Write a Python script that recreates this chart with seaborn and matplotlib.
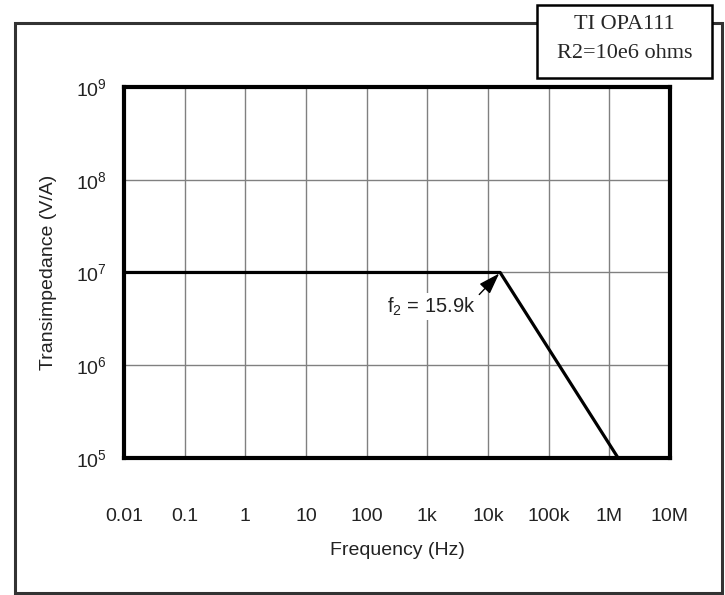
import matplotlib
matplotlib.use("Agg")
import matplotlib.pyplot as plt
from matplotlib.patches import Rectangle
import numpy as np
import pandas as pd
import seaborn as sns

# Data
freq_hz = [0.01, 15.9e3, 1.4e6]
transimpedance = [1e7, 1e7, 1e5]
x_ticks = [0.01, 0.1, 1, 10, 100, 1e3, 1e4, 1e5, 1e6, 1e7]
x_tick_labels = ["0.01", "0.1", "1", "10", "100", "1k", "10k", "100k", "1M", "10M"]
y_ticks = [1e5, 1e6, 1e7, 1e8, 1e9]
y_tick_labels = [r"$\mathregular{10^{5}}$", r"$\mathregular{10^{6}}$", r"$\mathregular{10^{7}}$",
                 r"$\mathregular{10^{8}}$", r"$\mathregular{10^{9}}$"]
corner_freq = 15.9e3
corner_label = r"f$\mathregular{_2}$ = 15.9k"
box_text = "TI OPA111\nR2=10e6 ohms"

sns.set_style("white")
plt.rcParams["font.family"] = ["Liberation Sans", "DejaVu Sans"]
plt.rcParams["mathtext.fontset"] = "custom"
plt.rcParams["mathtext.rm"] = "Liberation Sans"

df = pd.DataFrame({"freq": freq_hz, "z": transimpedance})

fig = plt.figure(figsize=(7.25, 5.95), dpi=100)
ax = fig.add_axes([0.171, 0.2303, 0.753, 0.6235])

ax.set_xscale("log")
ax.set_yscale("log")
sns.lineplot(data=df, x="freq", y="z", ax=ax, color="black", linewidth=2.3, zorder=3)

ax.set_xlim(0.01, 1e7)
ax.set_ylim(1e5, 1e9)
ax.set_xticks(x_ticks)
ax.set_xticklabels(x_tick_labels)
ax.set_yticks(y_ticks)
ax.set_yticklabels(y_tick_labels)
ax.minorticks_off()
ax.tick_params(axis="x", length=0, pad=36, labelsize=14, colors="#222222")
ax.tick_params(axis="y", length=0, pad=12, labelsize=14, colors="#222222")
ax.grid(True, which="major", color="#808080", linewidth=1.0)
ax.set_axisbelow(True)
for s in ax.spines.values():
    s.set_visible(True)
    s.set_color("black")
    s.set_linewidth(3.0)

ax.set_xlabel("Frequency (Hz)", fontsize=14, color="#222222", labelpad=12)
ax.set_ylabel("Transimpedance (V/A)", fontsize=14, color="#222222", labelpad=14)

ax.annotate(corner_label, xy=(corner_freq, 1e7), xytext=(6.2e3, 4.3e6),
            ha="right", va="center", fontsize=14.5, color="#222222",
            bbox=dict(boxstyle="square,pad=0.1", fc="white", ec="none"),
            arrowprops=dict(arrowstyle="-|>,head_length=0.9,head_width=0.3",
                            color="black", lw=1.0, shrinkA=2, shrinkB=1,
                            relpos=(1.0, 0.85)),
            zorder=4)

# Outer frame
fig.patches.append(Rectangle((0.0207, 0.0034), 0.975, 0.9576, transform=fig.transFigure,
                             fill=False, edgecolor="#333333", linewidth=2.2, zorder=0))
# Legend box
fig.patches.append(Rectangle((537 / 725, 1 - 78 / 595), 175 / 725, 73 / 595,
                             transform=fig.transFigure, facecolor="white",
                             edgecolor="black", linewidth=1.8, zorder=5))
fig.text(624.5 / 725, 1 - 39 / 595, box_text, ha="center", va="center",
         fontsize=16, family=["Liberation Serif", "DejaVu Serif"], linespacing=1.65,
         zorder=6)

fig.savefig("out.png", dpi=100)
